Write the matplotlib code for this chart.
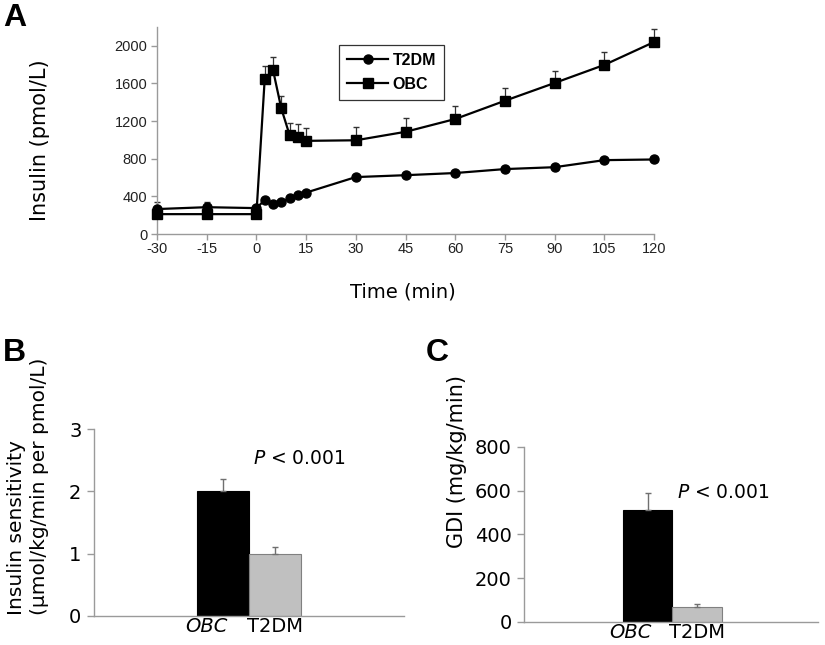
import matplotlib
matplotlib.use("Agg")
import matplotlib.pyplot as plt
import matplotlib.transforms as mtransforms
import numpy as np

plt.rcParams["axes.unicode_minus"] = False

# ---------------- data ----------------
time_min = [-30, -15, 0, 2.5, 5, 7.5, 10, 12.5, 15, 30, 45, 60, 75, 90, 105, 120]
t2dm_insulin = [265, 285, 275, 360, 322, 336, 380, 414, 440, 605, 625, 648, 690, 710, 785, 792]
t2dm_err = [80, 50, 20, 20, 20, 20, 20, 20, 20, 20, 20, 20, 20, 20, 20, 20]
obc_insulin = [211, 211, 211, 1643, 1746, 1336, 1054, 1036, 990, 996, 1086, 1222, 1416, 1605, 1797, 2040]
obc_err = [20, 20, 20, 140, 135, 135, 130, 130, 135, 145, 143, 135, 132, 132, 136, 136]
x_ticks_a = [-30, -15, 0, 15, 30, 45, 60, 75, 90, 105, 120]
y_ticks_a = [0, 400, 800, 1200, 1600, 2000]

groups = ["OBC", "T2DM"]
sens_vals = [2.0, 1.0]
sens_err = [0.2, 0.1]
gdi_vals = [511, 69]
gdi_err = [77, 10]
y_ticks_b = [0, 1, 2, 3]
y_ticks_c = [0, 200, 400, 600, 800]

W, H = 825, 645
fig = plt.figure(figsize=(W / 100, H / 100), dpi=100)

COMIC = "DejaVu Sans"
ARIAL = "Liberation Sans"
SPINE = "#9a9a9a"


def fx(px):
    return px / W


def fy(py):
    return 1 - py / H


# ---------------- Panel A ----------------
axA = fig.add_axes([fx(157), fy(234), fx(654) - fx(157), fy(27) - fy(234)])
for vals, errs in ((t2dm_insulin, t2dm_err), (obc_insulin, obc_err)):
    eb = axA.errorbar(time_min, vals, yerr=[np.zeros(len(errs)), errs],
                      fmt="none", ecolor="#333333", elinewidth=0.9, capsize=2.5, zorder=2)
    for art in eb.lines[1] + eb.lines[2]:
        art.set_clip_on(False)
axA.plot(time_min, t2dm_insulin, color="black", lw=1.6, marker="o", ms=6.5,
         label="T2DM", zorder=3, clip_on=False)
axA.plot(time_min, obc_insulin, color="black", lw=1.6, marker="s", ms=7.5,
         label="OBC", zorder=3, clip_on=False)
axA.set_xlim(-30, 120)
axA.set_ylim(0, 2200)
axA.set_xticks(x_ticks_a)
axA.set_yticks(y_ticks_a)
for s in ["top", "right"]:
    axA.spines[s].set_visible(False)
for s in ["left", "bottom"]:
    axA.spines[s].set_color(SPINE)
    axA.spines[s].set_linewidth(1.0)
axA.tick_params(axis="both", colors=SPINE, length=4, width=1.0, labelcolor="#222222",
                labelsize=10.5)
axA.tick_params(axis="x", pad=1.5)
axA.tick_params(axis="y", pad=3)
for lab in axA.get_xticklabels() + axA.get_yticklabels():
    lab.set_fontfamily(ARIAL)
leg = axA.legend(loc="upper left", bbox_to_anchor=(0.366, 0.913), borderaxespad=0,
                 frameon=True, fancybox=False, edgecolor="black", handlelength=2.6,
                 prop={"family": ARIAL, "weight": "bold", "size": 11.5},
                 borderpad=0.5, labelspacing=0.55, handletextpad=0.25)
leg.get_frame().set_linewidth(0.9)

fig.text(fx(40), fy(140), "Insulin (pmol/L)", rotation=90, ha="center", va="center",
         fontsize=15, family=COMIC)
fig.text(fx(403), fy(292), "Time (min)", ha="center", va="center",
         fontsize=14, family=COMIC)

# ---------------- Panel B ----------------
xpos = np.arange(len(groups))
bar_colors = ["black", "#c0c0c0"]
edge_colors = ["black", "#808080"]

axB = fig.add_axes([fx(94), fy(615.7), fx(404) - fx(94), fy(429.3) - fy(615.7)])
axB.bar(xpos, sens_vals, width=1.0, color=bar_colors, edgecolor=edge_colors, linewidth=0.8,
        yerr=[np.zeros(len(sens_err)), sens_err], ecolor="#707070",
        error_kw={"elinewidth": 1.0, "capsize": 2.5, "capthick": 1.0})
axB.set_xlim(-2.5, 3.5)
axB.set_ylim(0, 3)
axB.set_yticks(y_ticks_b)
axB.set_xticks(xpos)
axB.set_xticklabels(groups)

# ---------------- Panel C ----------------
axC = fig.add_axes([fx(524.3), fy(621.7), fx(818) - fx(524.3), fy(447) - fy(621.7)])
axC.bar(xpos, gdi_vals, width=1.0, color=bar_colors, edgecolor=edge_colors, linewidth=0.8,
        yerr=[np.zeros(len(gdi_err)), gdi_err], ecolor="#707070",
        error_kw={"elinewidth": 1.0, "capsize": 2.5, "capthick": 1.0})
axC.set_xlim(-2.5, 3.45)
axC.set_ylim(0, 800)
axC.set_yticks(y_ticks_c)
axC.set_xticks(xpos)
axC.set_xticklabels(groups)

for ax in (axB, axC):
    for s in ["top", "right"]:
        ax.spines[s].set_visible(False)
    for s in ["left", "bottom"]:
        ax.spines[s].set_color(SPINE)
        ax.spines[s].set_linewidth(1.0)
    ax.tick_params(axis="y", colors=SPINE, length=5, width=1.0, labelcolor="black",
                   labelsize=14, pad=4)
    ax.tick_params(axis="x", length=0, labelcolor="black", labelsize=14, pad=1)
    labs = ax.get_xticklabels()
    for lab in labs + ax.get_yticklabels():
        lab.set_fontfamily(COMIC)
    labs[0].set_style("italic")
    labs[0].set_horizontalalignment("right")
    labs[0].set_transform(labs[0].get_transform() +
                          mtransforms.ScaledTranslation(4 / 100, 0, fig.dpi_scale_trans))

axB.text(0.513, 0.846, r"$\mathit{P}$ < 0.001", transform=axB.transAxes, ha="left",
         va="center", fontsize=13.5, family=COMIC)
axC.text(0.52, 0.742, r"$\mathit{P}$ < 0.001", transform=axC.transAxes, ha="left",
         va="center", fontsize=13.5, family=COMIC)

fig.text(fx(17), fy(615), "Insulin sensitivity", rotation=90,
         ha="center", va="bottom", fontsize=14.5, family=COMIC)
fig.text(fx(40), fy(615), "(µmol/kg/min per pmol/L)", rotation=90,
         ha="center", va="bottom", fontsize=14.5, family=COMIC)
fig.text(fx(457), fy(462), "GDI (mg/kg/min)", rotation=90, ha="center", va="center",
         fontsize=15, family=COMIC)

# panel letters
for letter, (px, py) in {"A": (3, 3), "B": (3, 338), "C": (426, 338)}.items():
    fig.text(fx(px), fy(py), letter, ha="left", va="top", fontsize=23,
             fontweight="bold", family=ARIAL)

fig.savefig("out.png", dpi=100)
